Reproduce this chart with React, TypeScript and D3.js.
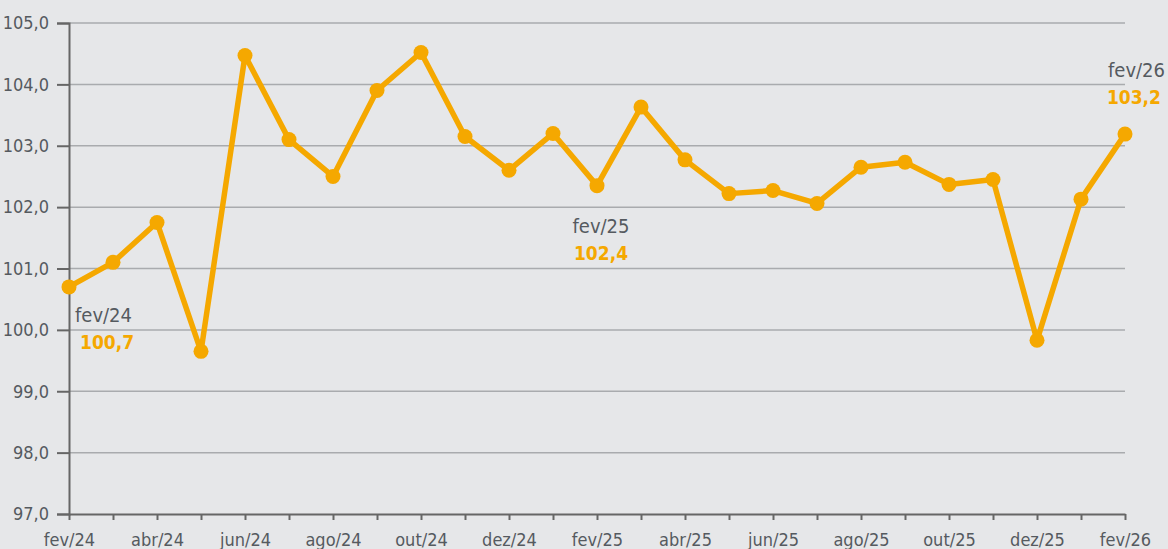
import React, { useEffect, useRef } from 'react'
import * as d3 from 'd3'

// indice mensal, fev/24 .. fev/26
const months = [
  'fev/24', 'mar/24', 'abr/24', 'mai/24', 'jun/24', 'jul/24', 'ago/24', 'set/24', 'out/24', 'nov/24', 'dez/24', 'jan/25',
  'fev/25', 'mar/25', 'abr/25', 'mai/25', 'jun/25', 'jul/25', 'ago/25', 'set/25', 'out/25', 'nov/25', 'dez/25', 'jan/26',
  'fev/26',
]
const values = [
  100.7, 101.1, 101.75, 99.65, 104.47, 103.1, 102.5, 103.9, 104.52, 103.15, 102.6, 103.2,
  102.35, 103.63, 102.77, 102.22, 102.27, 102.06, 102.65, 102.73, 102.37, 102.45, 99.83, 102.13,
  103.19,
]
const yTicks = [97, 98, 99, 100, 101, 102, 103, 104, 105]
const callouts = [
  { month: 'fev/24', label: '100,7', anchor: 'start', dx: 6, dy: 35 },
  { month: 'fev/25', label: '102,4', anchor: 'middle', dx: 4, dy: 47 },
  { month: 'fev/26', label: '103,2', anchor: 'end', dx: 40, dy: -57 },
]

const W = 1168
const H = 549
const FONT = '"DejaVu Sans Condensed", "Liberation Sans Narrow", "Roboto", sans-serif'
const ORANGE = '#f5a800'
const GREY = '#555a5f'

export default function App() {
  const ref = useRef<SVGSVGElement>(null)

  useEffect(() => {
    const svg = d3.select(ref.current)
    svg.selectAll('*').remove()

    const margin = { top: 23, right: 43, bottom: 35, left: 69 }

    const x = d3.scalePoint<string>()
      .domain(months)
      .range([margin.left, W - margin.right])

    const y = d3.scaleLinear()
      .domain([97, 105])
      .range([H - margin.bottom, margin.top])

    svg.append('rect').attr('width', W).attr('height', H).attr('fill', '#e6e7e9')

    // gridlines
    svg.append('g')
      .selectAll('line')
      .data(yTicks.filter(d => d > 97))
      .enter()
      .append('line')
      .attr('x1', margin.left)
      .attr('x2', W - margin.right)
      .attr('y1', d => y(d))
      .attr('y2', d => y(d))
      .attr('stroke', '#a9abae')
      .attr('stroke-width', 1.5)

    // y axis
    const yAxis = svg.append('g')
      .attr('transform', `translate(${margin.left},0)`)
      .call(d3.axisLeft(y).tickValues(yTicks).tickSize(12).tickPadding(8)
        .tickFormat(d => d3.format('.1f')(d as number).replace('.', ',')))
    yAxis.select('.domain').attr('stroke', '#666').attr('stroke-width', 2)
    yAxis.selectAll('.tick line').attr('stroke', '#666').attr('stroke-width', 2)
    yAxis.selectAll('text').attr('fill', GREY).attr('font-size', 18).attr('font-family', FONT)

    // x axis
    const xAxis = svg.append('g')
      .attr('transform', `translate(0,${H - margin.bottom})`)
      .call(d3.axisBottom(x).tickSize(6).tickPadding(13).tickSizeOuter(0)
        .tickFormat((d, i) => (i % 2 === 0 ? d : '')))
    xAxis.select('.domain').attr('stroke', '#666').attr('stroke-width', 2)
    xAxis.selectAll('.tick line').attr('stroke', '#666').attr('stroke-width', 2)
    xAxis.selectAll('text').attr('fill', GREY).attr('font-size', 18).attr('font-family', FONT)

    const data = months.map((m, i) => ({ m, v: values[i] }))

    svg.append('path')
      .datum(data)
      .attr('fill', 'none')
      .attr('stroke', ORANGE)
      .attr('stroke-width', 5.5)
      .attr('stroke-linejoin', 'round')
      .attr('d', d3.line<{ m: string, v: number }>().x(d => x(d.m)!).y(d => y(d.v)))

    svg.append('g')
      .selectAll('circle')
      .data(data)
      .enter()
      .append('circle')
      .attr('cx', d => x(d.m)!)
      .attr('cy', d => y(d.v))
      .attr('r', 7.5)
      .attr('fill', ORANGE)

    // callouts
    const c = svg.append('g').attr('font-family', FONT)
    callouts.forEach(o => {
      const v = values[months.indexOf(o.month)]
      const cx = x(o.month)! + o.dx
      const cy = y(v) + o.dy
      c.append('text')
        .attr('x', cx)
        .attr('y', cy)
        .attr('text-anchor', o.anchor)
        .attr('fill', GREY)
        .attr('font-size', 20)
        .text(o.month)
      c.append('text')
        .attr('x', o.anchor === 'start' ? cx + 5 : o.anchor === 'end' ? cx - 4 : cx)
        .attr('y', cy + 27)
        .attr('text-anchor', o.anchor)
        .attr('fill', ORANGE)
        .attr('font-size', 19)
        .attr('font-weight', 'bold')
        .text(o.label)
    })
  }, [])

  return (
    <svg ref={ref} width={W} height={H} style={{ position: 'absolute', left: 0, top: 0 }} />
  )
}
